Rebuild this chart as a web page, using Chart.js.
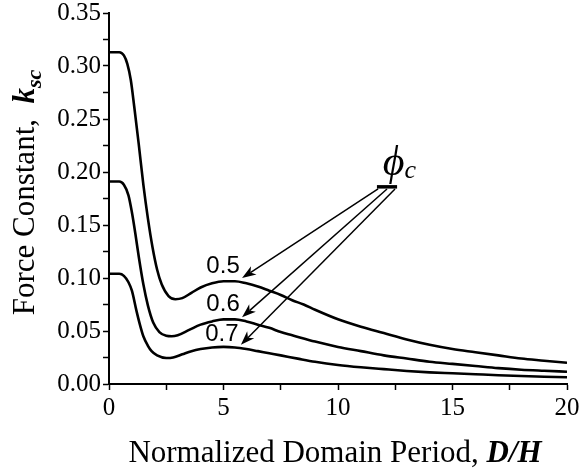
<!DOCTYPE html>
<html>
<head>
<meta charset="utf-8">
<script src="https://cdn.jsdelivr.net/npm/chart.js@4/dist/chart.umd.min.js"></script>
<style>
  html, body { margin: 0; padding: 0; background: #fff; }
  #wrap { width: 583px; height: 470px; position: relative; }
</style>
</head>
<body>
<div id="wrap"><canvas id="forceChart"></canvas></div>
<script>
// values: k_sc vs D/H for three phi_c
const periodPhi05 = [0, 0.45, 0.65, 0.8, 0.95, 1.1, 1.3, 1.5, 1.7, 1.9, 2.1, 2.3, 2.6, 2.9, 3.2, 3.6, 4.0, 4.5, 5.0, 5.5, 6.0, 6.5, 7.0, 7.5, 8.0, 8.5, 9.0, 10, 11, 12, 13, 14, 15, 16, 17, 18, 19, 20];
const kscPhi05    = [0.313, 0.313, 0.310, 0.302, 0.287, 0.262, 0.226, 0.188, 0.156, 0.129, 0.108, 0.094, 0.083, 0.080, 0.081, 0.086, 0.091, 0.095, 0.097, 0.097, 0.095, 0.092, 0.088, 0.084, 0.079, 0.075, 0.070, 0.061, 0.054, 0.048, 0.042, 0.037, 0.033, 0.030, 0.027, 0.024, 0.022, 0.020];

const periodPhi06 = [0, 0.45, 0.65, 0.85, 1.0, 1.15, 1.3, 1.5, 1.7, 1.93, 2.2, 2.5, 2.74, 3.0, 3.5, 4.0, 4.5, 5.0, 5.5, 6.0, 6.5, 7.0, 7.5, 8.0, 9.0, 10, 11, 12, 13, 14, 15, 16, 17, 18, 19, 20];
const kscPhi06    = [0.191, 0.191, 0.188, 0.178, 0.162, 0.142, 0.120, 0.094, 0.074, 0.058, 0.049, 0.0455, 0.045, 0.046, 0.051, 0.056, 0.059, 0.061, 0.061, 0.059, 0.056, 0.053, 0.049, 0.046, 0.040, 0.035, 0.031, 0.027, 0.024, 0.021, 0.019, 0.017, 0.015, 0.0135, 0.0125, 0.0116];

const periodPhi07 = [0, 0.45, 0.65, 0.85, 1.0, 1.2, 1.35, 1.5, 1.7, 1.86, 2.1, 2.5, 2.8, 3.2, 3.6, 4.0, 4.5, 5.0, 5.5, 6.0, 6.5, 7.0, 7.5, 8.3, 9.0, 10, 11, 12, 13, 14, 15, 16, 17, 18, 19, 20];
const kscPhi07    = [0.104, 0.104, 0.102, 0.096, 0.088, 0.069, 0.056, 0.045, 0.036, 0.031, 0.027, 0.0245, 0.025, 0.028, 0.031, 0.033, 0.0345, 0.035, 0.0345, 0.033, 0.031, 0.029, 0.027, 0.0237, 0.021, 0.018, 0.0158, 0.014, 0.0123, 0.011, 0.0101, 0.0092, 0.0083, 0.0075, 0.0069, 0.0063];

const xTicks = [0, 5, 10, 15, 20];
const yTicks = [0, 0.05, 0.10, 0.15, 0.20, 0.25, 0.30, 0.35];

// curve labels and the arrows pointing at them (data coordinates)
const curveLabels = ['0.5', '0.6', '0.7'];
const labelAt = [[4.98, 0.111], [4.98, 0.075], [4.93, 0.047]];
const arrowFrom = [[11.75, 0.184], [12.14, 0.184], [12.49, 0.184]];
const arrowTo = [[5.81, 0.100], [5.81, 0.063], [5.76, 0.037]];

const SERIF = '"Liberation Serif", "Times New Roman", serif';
const SANS = '"Liberation Sans", Arial, sans-serif';

const toPoints = (xs, ys) => xs.map((x, i) => ({ x: x, y: ys[i] }));

function drawRun(ctx, parts, x, y) {
    // parts: [text, font, dy]
    let cx = x;
    parts.forEach(([text, font, dy]) => {
        ctx.font = font;
        ctx.fillText(text, cx, y + (dy || 0));
        cx += ctx.measureText(text).width;
    });
}

function runWidth(ctx, parts) {
    return parts.reduce((w, [text, font]) => {
        ctx.font = font;
        return w + ctx.measureText(text).width;
    }, 0);
}

function arrow(ctx, x1, y1, x2, y2) {
    const ang = Math.atan2(y2 - y1, x2 - x1);
    const len = 14, half = 5, notch = 10;
    ctx.beginPath();
    ctx.moveTo(x1, y1);
    ctx.lineTo(x2 - Math.cos(ang) * notch, y2 - Math.sin(ang) * notch);
    ctx.stroke();
    const bx = x2 - Math.cos(ang) * len, by = y2 - Math.sin(ang) * len;
    const nx = -Math.sin(ang), ny = Math.cos(ang);
    ctx.beginPath();
    ctx.moveTo(x2, y2);
    ctx.lineTo(bx + nx * half, by + ny * half);
    ctx.lineTo(x2 - Math.cos(ang) * notch, y2 - Math.sin(ang) * notch);
    ctx.lineTo(bx - nx * half, by - ny * half);
    ctx.closePath();
    ctx.fill();
}

const annotations = {
    id: 'annotations',
    afterDraw(chart) {
        const { ctx, chartArea: area, scales: { x, y } } = chart;
        ctx.save();
        ctx.fillStyle = '#000';
        ctx.strokeStyle = '#000';

        // curve labels
        ctx.font = '24px ' + SANS;
        ctx.textAlign = 'center';
        ctx.textBaseline = 'middle';
        curveLabels.forEach((t, i) => {
            ctx.fillText(t, x.getPixelForValue(labelAt[i][0]), y.getPixelForValue(labelAt[i][1]));
        });

        // arrows
        ctx.lineWidth = 1.5;
        arrowFrom.forEach((p, i) => {
            arrow(ctx,
                x.getPixelForValue(p[0]), y.getPixelForValue(p[1]),
                x.getPixelForValue(arrowTo[i][0]), y.getPixelForValue(arrowTo[i][1]));
        });

        // short bar under phi_c
        ctx.lineWidth = 3.5;
        ctx.beginPath();
        ctx.moveTo(x.getPixelForValue(11.70), y.getPixelForValue(0.186));
        ctx.lineTo(x.getPixelForValue(12.58), y.getPixelForValue(0.186));
        ctx.stroke();

        // phi_c
        ctx.textAlign = 'left';
        ctx.textBaseline = 'alphabetic';
        drawRun(ctx, [
            ['\u03D5', 'italic 42px ' + SERIF, 0],
            ['c', 'italic 26px ' + SERIF, 3]
        ], x.getPixelForValue(11.95), y.getPixelForValue(0.197));

        // x title
        const xParts = [
            ['Normalized Domain Period, ', '31px ' + SERIF, 0],
            ['D/H', 'bold italic 31px ' + SERIF, 0]
        ];
        const xw = runWidth(ctx, xParts);
        drawRun(ctx, xParts, (area.left + area.right) / 2 - 3 - xw / 2, area.bottom + 78);

        // y title, rotated
        const yParts = [
            ['Force Constant,  ', '31px ' + SERIF, 0],
            ['k', 'bold italic 31px ' + SERIF, 0],
            ['sc', 'bold italic 22px ' + SERIF, 7]
        ];
        const yw = runWidth(ctx, yParts);
        ctx.translate(34, (area.top + area.bottom) / 2 - 6 + yw / 2);
        ctx.rotate(-Math.PI / 2);
        drawRun(ctx, yParts, 0, 0);
        ctx.restore();
    }
};

const lineStyle = {
    borderColor: '#000',
    borderWidth: 2.6,
    pointRadius: 0,
    fill: false,
    cubicInterpolationMode: 'monotone'
};

new Chart(document.getElementById('forceChart'), {
    type: 'line',
    data: {
        datasets: [
            { label: '0.5', data: toPoints(periodPhi05, kscPhi05), ...lineStyle },
            { label: '0.6', data: toPoints(periodPhi06, kscPhi06), ...lineStyle },
            { label: '0.7', data: toPoints(periodPhi07, kscPhi07), ...lineStyle }
        ]
    },
    options: {
        responsive: true,
        maintainAspectRatio: false,
        animation: false,
        events: [],
        layout: { padding: { top: 13, right: 16, left: 0, bottom: 0 } },
        plugins: {
            legend: { display: false },
            tooltip: { enabled: false }
        },
        scales: {
            x: {
                type: 'linear',
                min: 0,
                max: 20,
                border: { color: '#000', width: 2 },
                grid: { drawOnChartArea: false, drawTicks: true, tickLength: 6, tickColor: '#000', tickWidth: 1.5 },
                ticks: {
                    stepSize: 2.5,
                    autoSkip: false,
                    maxRotation: 0,
                    color: '#000',
                    padding: 3,
                    font: { family: SERIF, size: 25 },
                    callback: (v) => xTicks.includes(v) ? String(v) : ''
                },
                afterFit: (scale) => {
                    scale.height = 86;
                    scale.paddingRight = 0;
                    scale.paddingLeft = 0;
                }
            },
            y: {
                min: 0,
                max: 0.35,
                border: { color: '#000', width: 2 },
                grid: { drawOnChartArea: false, drawTicks: true, tickLength: 6, tickColor: '#000', tickWidth: 1.5 },
                ticks: {
                    stepSize: 0.025,
                    autoSkip: false,
                    color: '#000',
                    padding: 2,
                    font: { family: SERIF, size: 25 },
                    callback: (v) => yTicks.some(t => Math.abs(t - v) < 1e-6) ? v.toFixed(2) : ''
                },
                afterFit: (scale) => {
                    scale.width = 109;
                    scale.paddingTop = 0;
                    scale.paddingBottom = 0;
                }
            }
        }
    },
    plugins: [annotations]
});
</script>
</body>
</html>
